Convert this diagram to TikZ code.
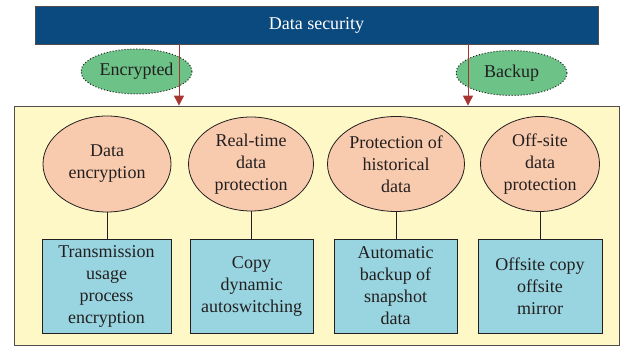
\documentclass[tikz,border=0pt]{standalone}
\usepackage{fontspec}
\setmainfont{Liberation Serif}
\usepackage{xcolor}
\usetikzlibrary{arrows.meta, positioning, shapes.geometric}

\definecolor{barblue}{HTML}{0B4A7E}
\definecolor{tagreen}{HTML}{6CC287}
\definecolor{peach}{HTML}{F9CBAE}
\definecolor{boxcyan}{HTML}{98D5E0}
\definecolor{paneyellow}{HTML}{FEF7C6}
\definecolor{arrowred}{HTML}{A93532}
\definecolor{inkgray}{HTML}{231F20}

\tikzset{
	txt/.style={font=\fontsize{18}{22}\selectfont, text=inkgray, align=center, inner sep=0pt},
	goal/.style={txt, ellipse, draw=inkgray, fill=peach, line width=0.8pt},
	means/.style={txt, rectangle, draw=inkgray, fill=boxcyan, line width=0.8pt, minimum height=94pt},
	tag/.style={txt, ellipse, draw=inkgray, fill=tagreen, dotted, line width=1pt, minimum width=111pt, minimum height=45pt},
}

\begin{document}
\begin{tikzpicture}[x=1pt, y=1pt,
					>={Triangle[length=10pt, width=10pt]},
					thick]

					\useasboundingbox (0,0) rectangle (621,347);

					% outer panel and title bar
					\node (panel) [draw=inkgray!80, fill=paneyellow, line width=0.8pt, minimum width=605pt, minimum height=239pt, inner sep=0pt] at (316.5,121.5) {};
					\node (bar) [draw=inkgray!80, fill=barblue, minimum width=563pt, minimum height=38pt, inner sep=0pt, text=white, font=\fontsize{18}{22}\selectfont] at (316.5,322) {Data security};

					% labels on the arrows
					\node (enc) [tag] at (136.5,275.5) {Encrypted};
					\node (bak) [tag] at (511.5,274) {Backup};

					\coordinate (encfrom) at (179,303);
					\coordinate (bakfrom) at (468,303);
					\draw[->, arrowred, line width=1pt] (encfrom) -- (encfrom |- panel.north);
					\draw[->, arrowred, line width=1pt] (bakfrom) -- (bakfrom |- panel.north);

					% four kinds of protection
					\node (g1) [goal, minimum width=128pt, minimum height=96pt] at (107,183) {Data\\encryption};
					\node (g2) [goal, minimum width=125pt, minimum height=94pt] at (251,183) {Real-time\\data\\protection};
					\node (g3) [goal, minimum width=137pt, minimum height=95pt] at (396,183) {Protection of\\historical\\data};
					\node (g4) [goal, minimum width=119pt, minimum height=95pt] at (540,183) {Off-site\\data\\protection};

					\node (m1) [means, minimum width=129pt] at (106.5,61) {Transmission\\usage\\process\\encryption};
					\node (m2) [means, minimum width=123pt] at (251.5,61) {Copy\\dynamic\\autoswitching};
					\node (m3) [means, minimum width=123pt] at (395.5,61) {Automatic\\backup of\\snapshot\\data};
					\node (m4) [means, minimum width=124pt] at (540,61) {Offsite copy\\offsite\\mirror};

					\foreach \i in {1,...,4}
						\draw[inkgray, line width=0.8pt] (g\i.south) -- (g\i.south |- m\i.north);
				\end{tikzpicture}
\end{document}
